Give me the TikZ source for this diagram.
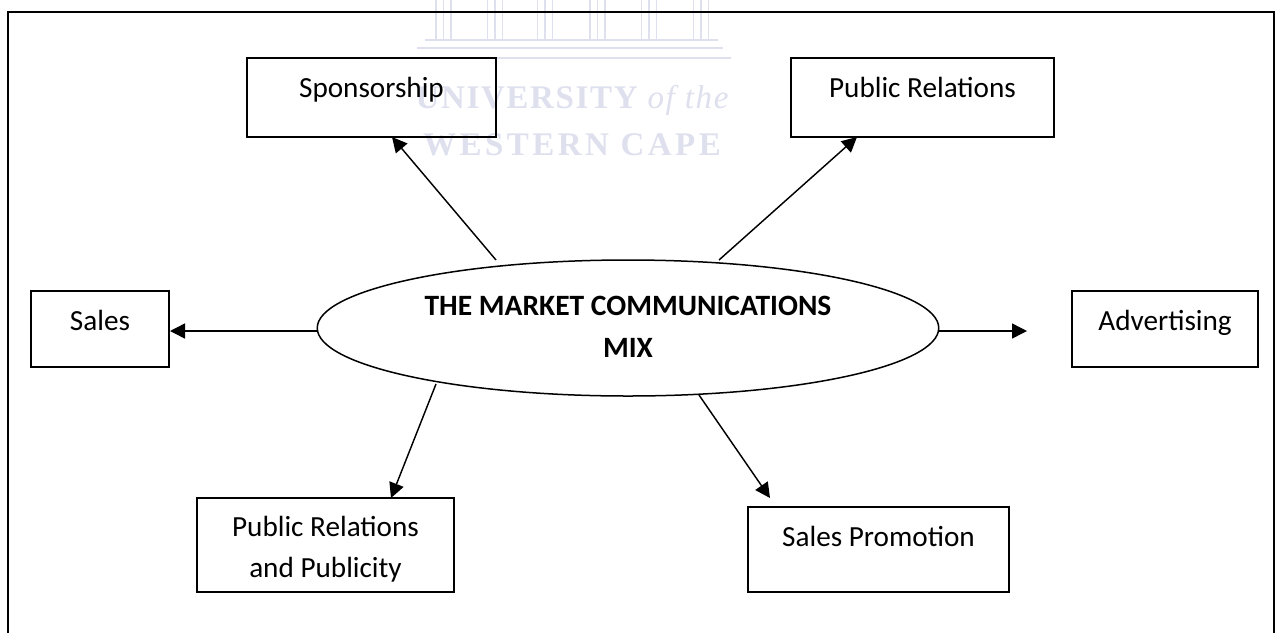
\documentclass[tikz,border=0pt]{standalone}
\usepackage{fontspec}
\setmainfont{Carlito}
\usetikzlibrary{shapes.geometric,arrows.meta}
\definecolor{wm}{RGB}{222,224,238}
\newfontfamily\wmA[LetterSpace=5]{Liberation Serif}
\newfontfamily\wmB[LetterSpace=10.5]{Liberation Serif}
\newcommand{\lift}[2]{\raisebox{#1pt}[0pt][0pt]{#2}}
\newcommand{\twolines}[3]{\raisebox{#1pt}[0pt][0pt]{\begin{tabular}[b]{@{}c@{}}#2\\#3\end{tabular}}}
\tikzset{
  x=1pt,y=-1pt,
  box/.style={draw=black,line width=1.5pt,outer sep=0pt,inner sep=0pt,align=center,font=\fontsize{29.2}{41}\selectfont},
  bubble/.style={ellipse,draw=black,line width=1.5pt,outer sep=0pt,inner sep=0pt,align=center,font=\bfseries\fontsize{29.5}{42}\selectfont},
  arrowline/.style={draw=black,line width=1.45pt,-{Triangle[length=15pt,width=15pt]}},
  frameline/.style={draw=black,line width=1.5pt},
  wmline/.style={draw=wm,line width=1.3pt},
  wmtext/.style={text=wm,font=\fontsize{33}{33}\selectfont,inner sep=0pt,outer sep=0pt}
}
\begin{document}
\begin{tikzpicture}
\useasboundingbox (0,0) rectangle (1278,633);
\fill[white] (0,0) rectangle (1278,633);
% watermark
\foreach \cx in {443.5,495,545,597.5,649,701}{
  \draw[wmline] (\cx-7.5,0) -- (\cx-7.5,40);
  \draw[wmline] (\cx,0) -- (\cx,40);
  \draw[wmline] (\cx+7.5,0) -- (\cx+7.5,40);
}
\draw[wmline] (425,40) -- (718,40);
\draw[wmline] (417,48) -- (723,48);
\draw[wmline] (412,58) -- (731,58);
\node[wmtext,anchor=base] (wma) at (572,108) {\wmA\bfseries UNIVERSITY \mdseries\itshape of the};
\node[wmtext,anchor=base] (wmb) at (572,155) {\wmB\bfseries WESTERN CAPE};
% frame
\coordinate (fa) at (8,633);
\coordinate (fb) at (8,12);
\coordinate (fc) at (1274,12);
\coordinate (fd) at (1274,633);
\draw[frameline] (fa) -- (fb) -- (fc) -- (fd);
% boxes
\node[box,minimum width=249pt,minimum height=79pt] (spon) at (371.5,97.5) {\lift{0.5}{Sponsorship}};
\node[box,minimum width=263pt,minimum height=79pt] (pr) at (922.5,97.5) {\lift{0.5}{Public Relations}};
\node[box,minimum width=138pt,minimum height=76pt] (sales) at (100,329) {\lift{-1}{Sales}};
\node[box,minimum width=186pt,minimum height=76pt] (adv) at (1165,329) {\lift{-1}{Advertising}};
\node[box,minimum width=257pt,minimum height=94pt] (prp) at (325.5,545) {\twolines{-32}{Public Relations}{and Publicity}};
\node[box,minimum width=261pt,minimum height=85pt] (sp) at (878.5,549.5) {\lift{3.5}{Sales Promotion}};
\node[bubble,minimum width=621.5pt,minimum height=136pt] (mix) at (628,328) {\twolines{-29}{THE MARKET COMMUNICATIONS}{MIX}};
% connectors
\draw[arrowline] ([shift={(-132,-68)}]mix.center) -- ([shift={(145,0)}]spon.south west);
\draw[arrowline] ([shift={(91,-68)}]mix.center) -- ([shift={(66,0)}]pr.south west);
\draw[arrowline] ([shift={(0,3)}]mix.west) -- ([shift={(1,2)}]sales.east);
\draw[arrowline] ([shift={(0,3)}]mix.east) -- ([shift={(-45,2)}]adv.west);
\draw[arrowline] ([shift={(-192,56)}]mix.center) -- ([shift={(194,0)}]prp.north west);
\draw[arrowline] ([shift={(71,67)}]mix.center) -- ([shift={(22,-9)}]sp.north west);
\end{tikzpicture}
\end{document}
